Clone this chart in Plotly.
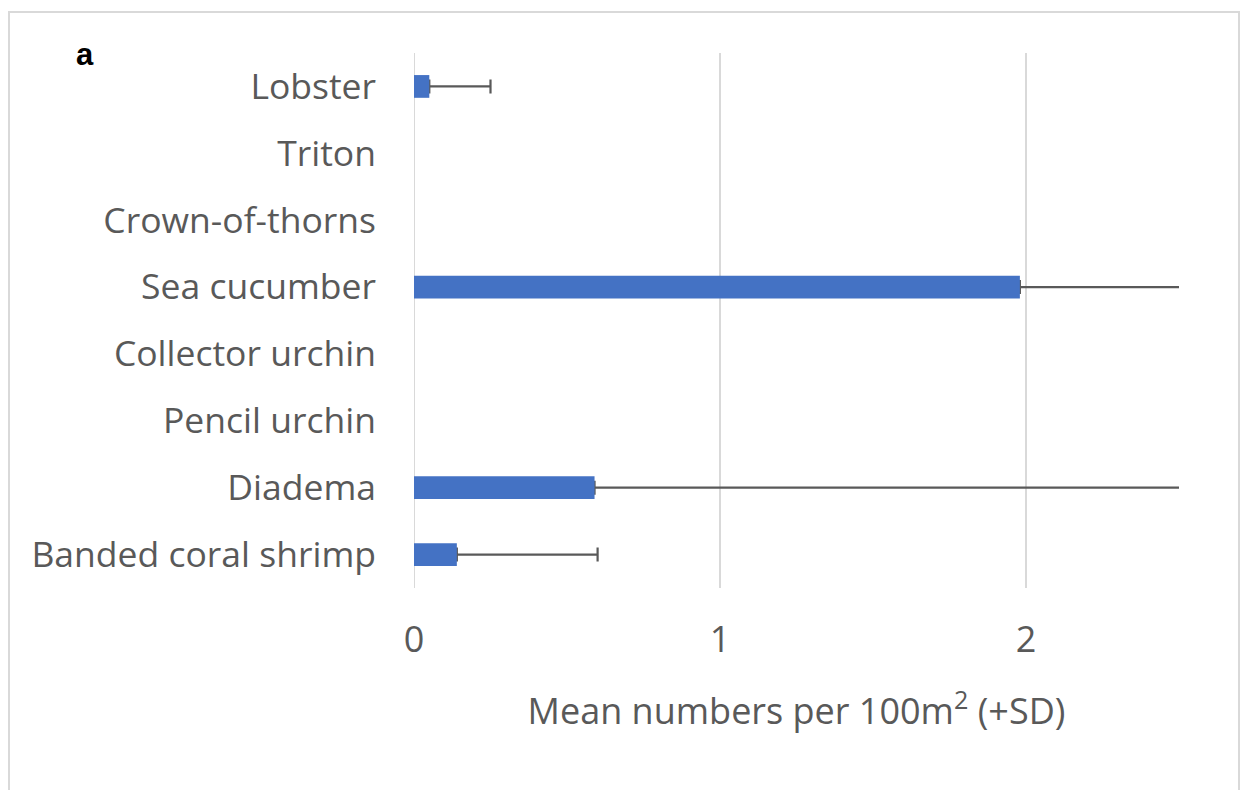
import plotly.graph_objects as go

# data (bottom to top on chart)
species = ["Banded coral shrimp", "Diadema", "Pencil urchin", "Collector urchin",
           "Sea cucumber", "Crown-of-thorns", "Triton", "Lobster"]
mean_per_100m2 = [0.14, 0.59, 0, 0, 1.98, 0, 0, 0.05]
sd_per_100m2 = [0.46, 2.2, 0, 0, 1.1, 0, 0, 0.2]
x_ticks = [0, 1, 2]

W, H = 1242, 790
L, R, T, B = 414, 63, 53, 202

FONT = "Open Sans"
GREY = "#595959"
LIGHT = "#D9D9D9"
BLUE = "#4472C4"

# only species that were seen get an error bar
seen = [i for i, m in enumerate(mean_per_100m2) if m > 0]

fig = go.Figure()
# error bars sit in a transparent trace underneath, so the cap at the bar end is hidden
fig.add_trace(go.Bar(
    y=[species[i] for i in seen],
    x=[mean_per_100m2[i] for i in seen],
    orientation="h",
    width=0.34,
    marker=dict(color="rgba(0,0,0,0)", line=dict(width=0)),
    error_x=dict(type="data", symmetric=False,
                 array=[sd_per_100m2[i] for i in seen],
                 arrayminus=[0] * len(seen),
                 visible=True, color=GREY, thickness=2.2, width=7),
    hoverinfo="skip",
))
fig.add_trace(go.Bar(
    y=species,
    x=mean_per_100m2,
    orientation="h",
    width=0.34,
    marker=dict(color=BLUE, line=dict(width=0)),
))

fig.update_layout(
    width=W, height=H,
    barmode="overlay",
    margin=dict(l=L, r=R, t=T, b=B, autoexpand=False),
    plot_bgcolor="white",
    paper_bgcolor="white",
    showlegend=False,
    font=dict(family=FONT, color=GREY, size=36),
    xaxis=dict(
        range=[0, 2.5],
        tickvals=x_ticks,
        showgrid=True, gridcolor=LIGHT, gridwidth=2,
        zeroline=False, showline=False,
        ticks="", ticklabelstandoff=27,
        tickfont=dict(family=FONT, size=36, color=GREY),
        title=dict(text="Mean numbers per 100m<sup>2</sup> (+SD)",
                   font=dict(family=FONT, size=36, color=GREY), standoff=36),
    ),
    yaxis=dict(
        categoryorder="array", categoryarray=species,
        showgrid=False, zeroline=False,
        showline=False, ticks="", ticklabelstandoff=37,
        tickfont=dict(family=FONT, size=35.5, color=GREY),
    ),
)

# vertical axis line at x = 0
fig.add_shape(type="line", xref="x", yref="paper", x0=0, x1=0, y0=0, y1=1,
              line=dict(color=LIGHT, width=2), layer="below")


# page pixels -> paper coordinates
def px_x(p):
    return (p - L) / (W - L - R)


def px_y(p):
    return (H - B - p) / (H - T - B)


# outer frame of the chart area
fig.add_shape(type="rect", xref="paper", yref="paper",
              x0=px_x(9), x1=px_x(1239), y0=px_y(12), y1=px_y(820),
              line=dict(color=LIGHT, width=2), fillcolor="rgba(0,0,0,0)")

fig.add_annotation(text="a", xref="paper", yref="paper",
                   x=px_x(85), y=px_y(54), xanchor="center", yanchor="middle",
                   showarrow=False,
                   font=dict(family="Liberation Sans", weight="bold",
                             size=31, color="black"))

fig.write_html("out.html", config={"displayModeBar": False},
               post_script="document.body.style.margin='0';")
